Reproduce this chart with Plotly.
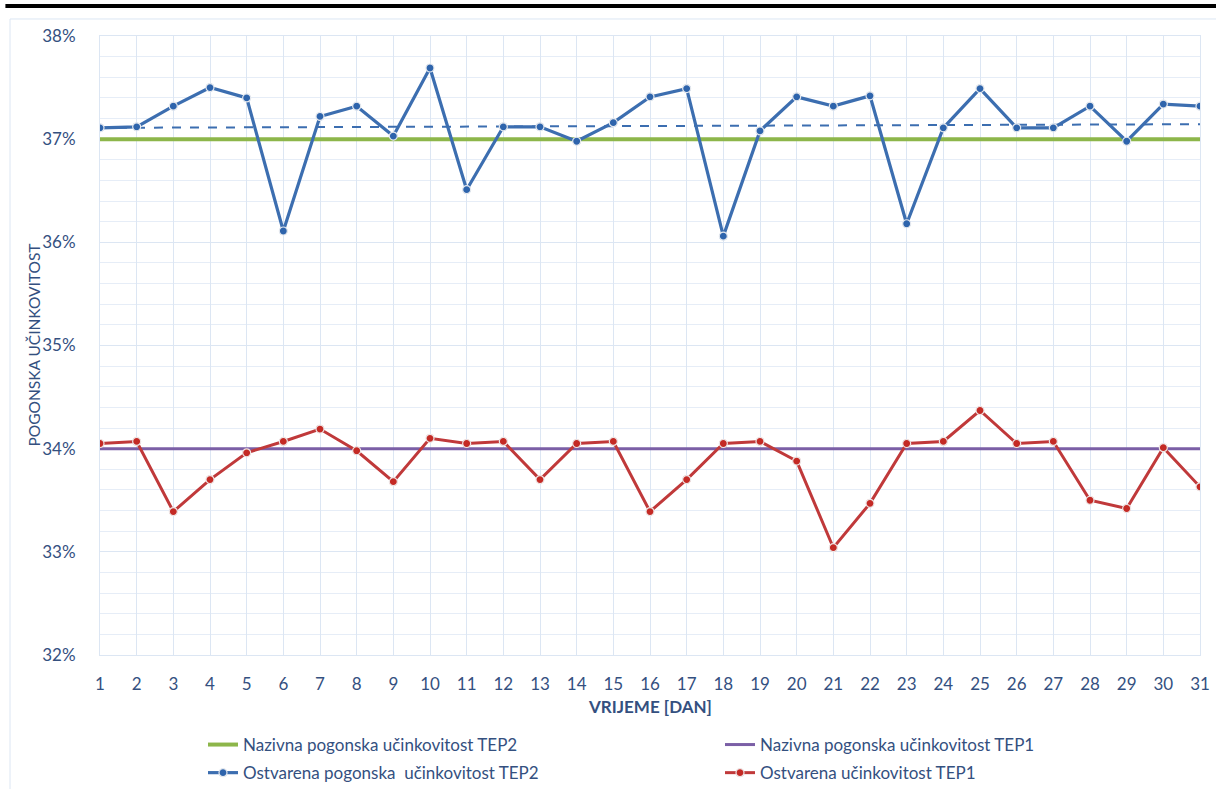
import plotly.graph_objects as go

days = list(range(1, 32))

tep2_actual = [37.11, 37.12, 37.32, 37.50, 37.40, 36.11, 37.22, 37.32, 37.03, 37.69,
               36.51, 37.12, 37.12, 36.98, 37.16, 37.41, 37.49, 36.06, 37.08, 37.41,
               37.32, 37.42, 36.18, 37.11, 37.49, 37.11, 37.11, 37.32, 36.98, 37.34, 37.32]

tep1_actual = [34.05, 34.07, 33.39, 33.70, 33.96, 34.07, 34.19, 33.98, 33.68, 34.10,
               34.05, 34.07, 33.70, 34.05, 34.07, 33.39, 33.70, 34.05, 34.07, 33.88,
               33.04, 33.47, 34.05, 34.07, 34.37, 34.05, 34.07, 33.50, 33.42, 34.01, 33.63]

tep2_nominal = [37.0] * 31
tep1_nominal = [34.0] * 31

trend_days = [1, 31]
tep2_trend = [37.11, 37.145]

y_ticks = [32, 33, 34, 35, 36, 37, 38]
y_tick_labels = ["32%", "33%", "34%", "35%", "36%", "37%", "38%"]

names = ["Nazivna pogonska učinkovitost TEP2",
         "Nazivna pogonska učinkovitost TEP1",
         "Ostvarena pogonska  učinkovitost TEP2",
         "Ostvarena učinkovitost TEP1"]

y_title = "POGONSKA UČINKOVITOST"
x_title = "VRIJEME [DAN]"

TXT = "#34507F"
GRID = "#DCE6F3"
FONT = "Lato"

fig = go.Figure()
fig.add_trace(go.Scatter(x=days, y=tep2_nominal, mode="lines", name=names[0],
                         line=dict(color="#8DB64A", width=4), legend="legend", legendgroup="a"))
fig.add_trace(go.Scatter(x=days, y=tep1_nominal, mode="lines", name=names[1],
                         line=dict(color="#7B5FA6", width=3), legend="legend2", legendgroup="b"))
fig.add_trace(go.Scatter(x=trend_days, y=tep2_trend, mode="lines", showlegend=False,
                         line=dict(color="#3C6EB0", width=2, dash="dash"), hoverinfo="skip"))
fig.add_trace(go.Scatter(x=days, y=tep2_actual, mode="lines+markers", name=names[2],
                         line=dict(color="#3C6EB0", width=3.2),
                         marker=dict(size=8, color="#2E64AC", line=dict(color="#E4E8EE", width=1.2)),
                         legend="legend", legendgroup="c"))
fig.add_trace(go.Scatter(x=days, y=tep1_actual, mode="lines+markers", name=names[3],
                         line=dict(color="#C0393A", width=3),
                         marker=dict(size=8, color="#C42A25", line=dict(color="#EDE4E4", width=1.2)),
                         legend="legend2", legendgroup="d"))

leg_common = dict(orientation="v", yref="container", xref="container", yanchor="top",
                  xanchor="left", tracegroupgap=3, itemwidth=30,
                  font=dict(family=FONT, size=17, color=TXT), bgcolor="rgba(0,0,0,0)")

fig.update_layout(
    width=1216, height=789,
    margin=dict(l=100, r=16, t=36, b=134, autoexpand=False),
    paper_bgcolor="white", plot_bgcolor="white",
    font=dict(family=FONT, size=16, color=TXT),
    legend=dict(x=203 / 1216, y=1 - 727 / 789, **leg_common),
    legend2=dict(x=720 / 1216, y=1 - 727 / 789, **leg_common),
    showlegend=True,
)

fig.update_xaxes(range=[1, 31], tickvals=days, ticktext=[str(d) for d in days],
                 showgrid=True, gridcolor=GRID, gridwidth=1, zeroline=False,
                 showline=True, linecolor=GRID, linewidth=1, mirror=True,
                 ticks="", ticklabelstandoff=14,
                 tickfont=dict(family=FONT, size=17, color=TXT))
fig.update_yaxes(range=[32, 38], tickvals=y_ticks, ticktext=y_tick_labels,
                 showgrid=True, gridcolor=GRID, gridwidth=1, zeroline=False,
                 showline=True, linecolor=GRID, linewidth=1, mirror=True,
                 ticks="", ticklabelstandoff=20,
                 minor=dict(dtick=0.2, showgrid=True, gridcolor="#E6EDF7", gridwidth=1),
                 tickfont=dict(family=FONT, size=17, color=TXT))

# axis titles
fig.add_annotation(text=y_title, xref="paper", yref="paper", x=(33 - 100) / 1100, y=0.5,
                   textangle=-90, showarrow=False, xanchor="center", yanchor="middle",
                   font=dict(family=FONT, size=15.5, color=TXT))
fig.add_annotation(text="<b>" + x_title + "</b>", xref="paper", yref="paper", x=0.5,
                   y=-(706 - 655) / 619, showarrow=False, xanchor="center", yanchor="middle",
                   font=dict(family=FONT, size=17, color=TXT))

# chart box border and top black rule
fig.add_shape(type="rect", xref="paper", yref="paper", x0=-0.0818, x1=1.05, y0=-0.5, y1=1.0275,
              line=dict(color="#DCE6F3", width=1), fillcolor="rgba(0,0,0,0)", layer="below")
fig.add_shape(type="rect", xref="paper", yref="paper", x0=-0.086, x1=1.05, y0=1.0452, y1=1.0517,
              line=dict(width=0), fillcolor="black")

fig.write_html("out.html", post_script="document.body.style.margin='0';",
               config={"displayModeBar": False})
